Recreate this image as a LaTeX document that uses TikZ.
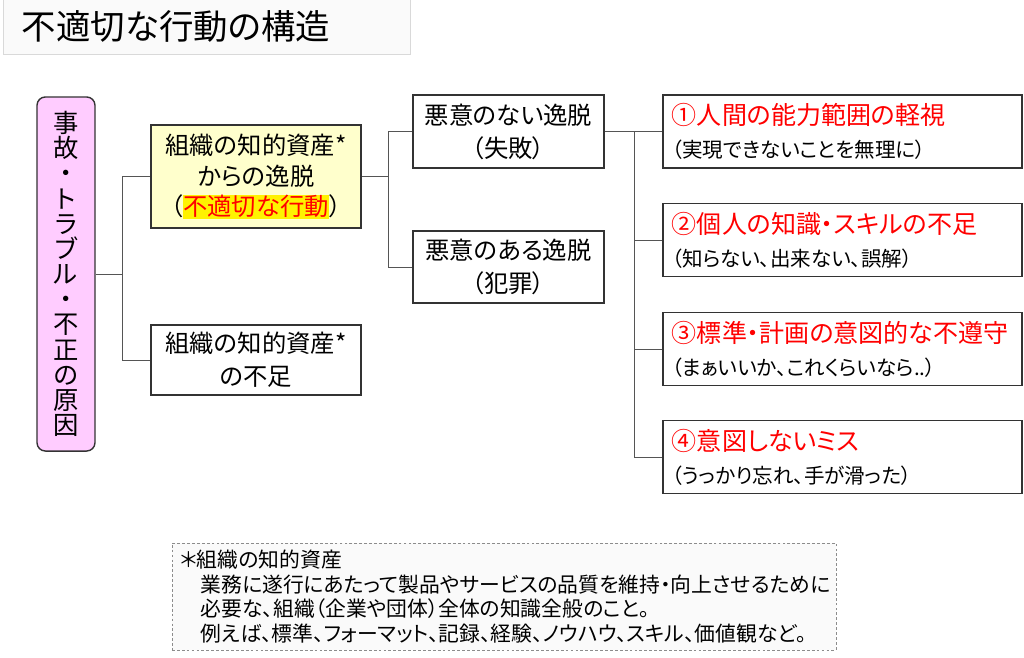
\documentclass[tikz,border=0pt]{standalone}
\usepackage{fontspec}
\setmainfont[CharacterWidth=AlternateProportional]{Noto Sans CJK JP}
\usetikzlibrary{positioning}

\definecolor{causepink}{HTML}{FFCCFF}
\definecolor{devyellow}{HTML}{FFFFCC}
\definecolor{framegray}{HTML}{333333}
\definecolor{wiregray}{HTML}{555555}

\newcommand{\redhead}[1]{{\fontsize{17.8pt}{21pt}\selectfont\color{red}#1}}
\newcommand{\stackfont}{\fontsize{18pt}{17.9pt}\selectfont\lineskiplimit=-5pt\relax}
\newcommand{\notefont}{\fontsize{14.8pt}{17.6pt}\selectfont\lineskiplimit=-5pt\relax}

\tikzset{
  rbox/.style={minimum width=8.975cm, minimum height=1.825cm, text width=8.525cm,
    align=left, inner xsep=0.225cm, font=\fontsize{14.6pt}{23.5pt}\selectfont},
}

\begin{document}
\begin{tikzpicture}[x=0.025cm, y=-0.025cm]
	\useasboundingbox (0,0) rectangle (1024,657);

	\node[draw=black!15, fill=black!2, minimum width=10.175cm, minimum height=1.4cm,
	  text width=9.225cm, align=left, inner xsep=0.475cm,
	  font=\fontsize{24.5pt}{28pt}\selectfont] (titel) at (206.5,26)
	  {\raisebox{-0.13cm}{不適切な行動の構造}};

	\begin{scope}[every node/.style={draw=framegray, line width=1pt, fill=white, align=center,
	  inner sep=0pt, font=\fontsize{17.3pt}{23.5pt}\selectfont}]
		\node [fill=causepink, rounded corners=6pt, minimum width=1.45cm, minimum height=8.85cm,
		  font=\stackfont] (ursache) at (66,274)
		  {事\\故\\・\\ト\\ラ\\ブ\\ル\\・\\不\\正\\の\\原\\因};
		\node [fill=devyellow, minimum width=5.25cm, minimum height=2.575cm,
		  font=\fontsize{17.3pt}{21.7pt}\selectfont] (abweichung) at (256,176.5)
		  {組織の知的資産*\\からの逸脱\\（{\setlength\fboxsep{0.5pt}\colorbox{yellow}{\color{red}不適切な行動}}）};
		\node [minimum width=5.25cm, minimum height=1.75cm] (mangel) at (256,360)
		  {組織の知的資産*\\の不足};
		\node [minimum width=4.775cm, minimum height=1.825cm] (fehler) at (508.5,131.5)
		  {悪意のない逸脱\\（失敗）};
		\node [minimum width=4.775cm, minimum height=1.8cm] (straftat) at (508.5,267)
		  {悪意のある逸脱\\（犯罪）};
		\node [rbox] (eins) at (842.5,131.5)
		  {\redhead{①人間の能力範囲の軽視}\\（実現できないことを無理に）};
		\node [rbox] (zwei) at (842.5,240)
		  {\redhead{②個人の知識・スキルの不足}\\（知らない、出来ない、誤解）};
		\node [rbox] (drei) at (842.5,349)
		  {\redhead{③標準・計画の意図的な不遵守}\\（まぁいいか、これくらいなら..）};
		\node [rbox] (vier) at (842.5,457)
		  {\redhead{④意図しないミス}\\（うっかり忘れ、手が滑った）};
	\end{scope}

	\node[draw=black!45, dash pattern=on 2pt off 1.5pt, fill=black!2, minimum width=16.6cm,
	  minimum height=2.675cm, text width=16.2cm, align=left, inner xsep=0.2cm,
	  font=\notefont] (fussnote) at (504,596.5)
	  {＊組織の知的資産\\
	   　業務に遂行にあたって製品やサービスの品質を維持・向上させるために\\
	   　必要な、組織（企業や団体）全体の知識全般のこと。\\
	   　例えば、標準、フォーマット、記録、経験、ノウハウ、スキル、価値観など。};

	\coordinate (k1) at (122,274);
	\coordinate (k2) at (388,176.5);
	\coordinate (k3) at (634,131.5);

	\begin{scope}[draw=wiregray, line width=0.7pt]
		\draw (ursache.east) -- (k1);
		\draw (k1) |- (abweichung.west);
		\draw (k1) |- (mangel.west);
		\draw (abweichung.east) -- (k2);
		\draw (k2) |- (fehler.west);
		\draw (k2) |- (straftat.west);
		\draw (fehler.east) -- (k3);
		\draw (k3) |- (eins.west);
		\draw (k3) |- (zwei.west);
		\draw (k3) |- (drei.west);
		\draw (k3) |- (vier.west);
	\end{scope}
\end{tikzpicture}
\end{document}
